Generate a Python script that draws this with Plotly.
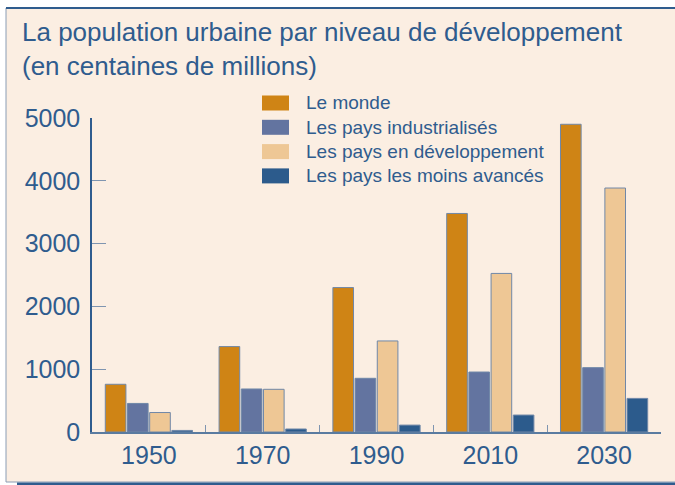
import plotly.graph_objects as go

years = ['1950', '1970', '1990', '2010', '2030']
series_names = ['Le monde', 'Les pays industrialisés', 'Les pays en développement', 'Les pays les moins avancés']
monde = [760, 1360, 2300, 3480, 4900]
industrialises = [455, 685, 855, 955, 1025]
developpement = [310, 680, 1450, 2525, 3885]
moins_avances = [25, 48, 110, 270, 535]
colors = ['#CF8415', '#6374A0', '#EEC795', '#2C5B8C']

text_col = '#2F5C8E'
bg = '#FBEEE2'
W, H = 675, 485
ML, MR, MT, MB = 92, 14, 118, 53
PW, PH = W - ML - MR, H - MT - MB


def px_x(x):
    return (x - ML) / PW


def px_y(y):
    return (H - MB - y) / PH


fig = go.Figure()
for name, vals, c in zip(series_names, [monde, industrialises, developpement, moins_avances], colors):
    fig.add_trace(go.Bar(x=years, y=vals, name=name, marker_color=c,
                         marker_line_color='#7088A8', marker_line_width=1))

# frame around the chart
fig.add_shape(type='rect', xref='paper', yref='paper', x0=px_x(6), x1=px_x(677), y0=px_y(482), y1=px_y(8),
              fillcolor=bg, line=dict(color='#8A9DB5', width=1), layer='below')
fig.add_shape(type='line', xref='paper', yref='paper', x0=px_x(6), x1=px_x(677), y0=px_y(8), y1=px_y(8),
              line=dict(color='#2F5C8E', width=2), layer='below')
fig.add_shape(type='line', xref='paper', yref='paper', x0=px_x(17), x1=px_x(677), y0=px_y(484), y1=px_y(484),
              line=dict(color='#2F5C8E', width=3), layer='below')

# legend drawn by hand (bigger swatches than plotly's)
for i, (name, c) in enumerate(zip(series_names, colors)):
    yc = 103 + i * 24.3
    fig.add_shape(type='rect', xref='paper', yref='paper', x0=px_x(262), x1=px_x(289),
                  y0=px_y(yc + 7.5), y1=px_y(yc - 7.5), fillcolor=c, line=dict(width=0))
    fig.add_annotation(xref='paper', yref='paper', x=px_x(304), y=px_y(yc), text=name,
                       showarrow=False, xanchor='left', yanchor='middle',
                       font=dict(size=19, color=text_col))

fig.update_layout(
    width=W, height=H,
    margin=dict(l=ML, r=MR, t=MT, b=MB),
    paper_bgcolor='white', plot_bgcolor='rgba(0,0,0,0)',
    font=dict(family='Liberation Sans, Arial, sans-serif', color=text_col),
    title=dict(text='La population urbaine par niveau de développement<br>(en centaines de millions)',
               x=22 / W, xanchor='left', y=1 - 41 / H, yanchor='top',
               font=dict(size=26, color=text_col)),
    showlegend=False,
    barmode='group', bargap=0.22, bargroupgap=0.07,
)
fig.update_xaxes(type='category', showline=True, linecolor='#5A7BA0', linewidth=1.5,
                 ticks='inside', tickson='boundaries', ticklen=7, tickcolor='#7F95B0',
                 tickfont=dict(size=25, color=text_col), ticklabelstandoff=0, showgrid=False)
fig.update_yaxes(range=[0, 5000], tickvals=[0, 1000, 2000, 3000, 4000, 5000],
                 showline=True, linecolor='#2F5C8E', linewidth=1.5,
                 ticks='inside', ticklen=14, tickcolor='#7F95B0',
                 tickfont=dict(size=25, color=text_col), ticklabelstandoff=5,
                 showgrid=False, zeroline=False)

fig.write_html('out.html', config={'displayModeBar': False},
               post_script="document.body.style.margin='0';")
